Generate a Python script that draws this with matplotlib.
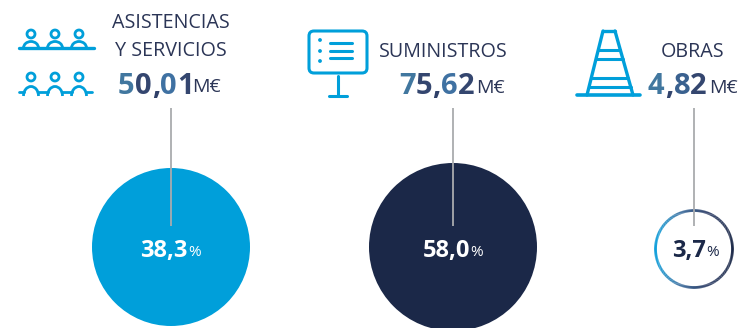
import matplotlib
matplotlib.use('Agg')
import matplotlib.pyplot as plt
from matplotlib.collections import LineCollection
from matplotlib.colors import LinearSegmentedColormap
from matplotlib.patches import Circle, FancyBboxPatch, Arc
import numpy as np

plt.rcParams['font.family'] = ['Open Sans', 'DejaVu Sans']

# data
titles = [['ASISTENCIAS', 'Y SERVICIOS'], ['SUMINISTROS'], ['OBRAS']]
amounts = ['50,01', '75,62', '4,82']
shares = ['38,3', '58,0', '3,7']
unit = 'M€'

BLUE = '#009FDA'
NAVY = '#1B2848'
TXT = '#2B3556'
GREY = '#A9ABAE'
cmap = LinearSegmentedColormap.from_list('g', ['#0F9FDB', '#3F6E9E', '#2E3F68', NAVY])
digit_cols = LinearSegmentedColormap.from_list('d', ['#41779F', '#34466F', '#2F4068', '#3F72A3', '#34466F'])

fig = plt.figure(figsize=(7.40, 3.28), dpi=100)
ax = fig.add_axes([0, 0, 1, 1])
ax.set_xlim(0, 740)
ax.set_ylim(328, 0)
ax.axis('off')


def line(xs, ys, lw=2.2, c=BLUE):
    ax.plot(xs, ys, color=c, lw=lw, solid_capstyle='round', solid_joinstyle='round')


def grad_text(x, y, s, size):
    # one Text per character, the reference fades from blue to navy
    r = fig.canvas.get_renderer()
    for i, ch in enumerate(s):
        t = ax.text(x, y, ch, fontsize=size, fontweight='bold', va='center', ha='left',
                    color=digit_cols(i / max(len(s) - 1, 1)))
        bb = t.get_window_extent(r)
        adv = ax.transData.inverted().transform((bb.x1, 0))[0] - ax.transData.inverted().transform((bb.x0, 0))[0]
        x += adv + 0.2
    return x


def circle_label(cx, cy, val, col, size, small):
    r = fig.canvas.get_renderer()
    t = ax.text(cx - 6, cy, val, fontsize=size, fontweight='bold', color=col, ha='center', va='center')
    bb = t.get_window_extent(r)
    xr = ax.transData.inverted().transform((bb.x1, 0))[0]
    ax.text(xr + 0.5, cy + 1.5, '%', fontsize=small, color=col, ha='left', va='center')


# titles
ax.text(171, 23, titles[0][0], fontsize=14.2, color=TXT, ha='center', va='center')
ax.text(171, 51, titles[0][1], fontsize=14.2, color=TXT, ha='center', va='center')
ax.text(443, 52, titles[1][0], fontsize=14.2, color=TXT, ha='center', va='center')
ax.text(693, 52, titles[2][0], fontsize=14.2, color=TXT, ha='center', va='center')

# amounts
for x0, y0, s, ux in zip([118, 399, 648], [86, 87, 87], amounts, [192, 476, 709]):
    grad_text(x0, y0, s, 21)
    ax.text(ux, y0 + 1, unit, fontsize=14, color=TXT, ha='left', va='center')

# circles
ax.add_patch(Circle((171, 247), 79, fc=BLUE, ec='none', zorder=1))
ax.add_patch(Circle((453, 247), 84, fc=NAVY, ec='none', zorder=1))

# ring with left-right gradient
th = np.linspace(0, 2 * np.pi, 241)
rx = 694 + 38.5 * np.cos(th)
ry = 249 + 38.5 * np.sin(th)
pts = np.column_stack([rx, ry]).reshape(-1, 1, 2)
segs = np.concatenate([pts[:-1], pts[1:]], axis=1)
lc = LineCollection(segs, cmap=cmap, lw=2.0, zorder=2)
lc.set_array((rx[:-1] - rx.min()) / (rx.max() - rx.min()))
ax.add_collection(lc)

# leader lines
for x in [171, 453, 694]:
    ax.plot([x, x], [108, 226], color=GREY, lw=1.3, zorder=3, solid_capstyle='butt')

circle_label(170, 251, shares[0], 'white', 17, 11)
circle_label(452, 251, shares[1], 'white', 17, 11)
circle_label(695, 251, shares[2], NAVY, 17, 11)

# icon 1, people round a table
for hx in [31, 55, 79]:
    ax.add_patch(Circle((hx, 34), 4, fc='none', ec=BLUE, lw=2))
    ax.add_patch(Arc((hx, 48), 15, 13, theta1=180, theta2=360, ec=BLUE, lw=2))
    ax.add_patch(Circle((hx, 77), 4, fc='none', ec=BLUE, lw=2))
    ax.add_patch(Arc((hx, 96), 15, 19, theta1=180, theta2=360, ec=BLUE, lw=2))
line([19, 94], [48, 48], 2.4)
for x1, x2 in [(19, 24), (38, 48), (62, 72), (86, 92)]:
    line([x1, x2], [92, 92], 2)

# icon 2, board on a stand
ax.add_patch(FancyBboxPatch((314, 36), 48, 32, boxstyle='round,pad=5,rounding_size=5', fc='none', ec=BLUE, lw=2.2))
for dy, ly in zip([40, 51, 61], [43, 51, 58]):
    ax.add_patch(Circle((320, dy), 1.9, fc=BLUE, ec='none'))
    line([330, 352], [ly, ly], 2.2)
line([338, 338], [76, 95], 2.2)
line([329, 347], [96, 96], 2.2)

# icon 3, cone
line([603, 615], [31, 31], 2.4)
line([603, 587], [31, 95], 2.4)
line([615, 633], [31, 95], 2.4)
line([577, 640], [95, 95], 2.6)
for y in [50, 59, 78, 87]:
    f = (y - 31) / 64
    line([603 - 16 * f, 615 + 18 * f], [y, y], 2.2)

fig.savefig('out.png', dpi=100)
